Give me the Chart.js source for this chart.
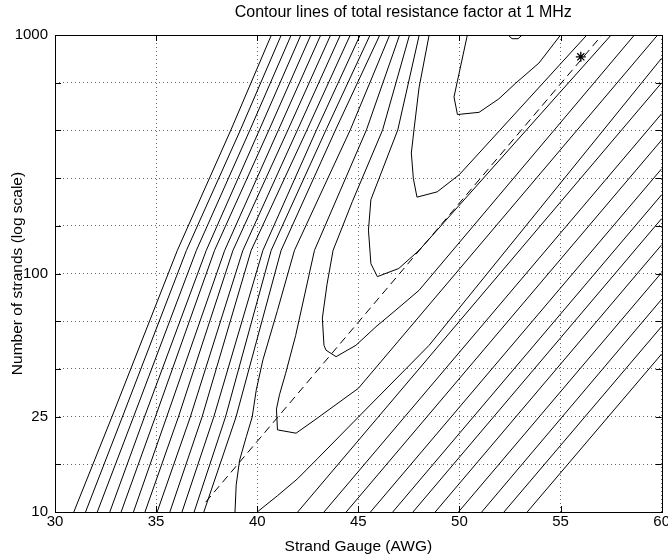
<!DOCTYPE html>
<html><head><meta charset="utf-8">
<script src="https://cdn.jsdelivr.net/npm/chart.js@4.4.1/dist/chart.umd.min.js"></script>
<style>html,body{margin:0;padding:0;background:#fff;}#wrap{width:668px;height:557px;}</style>
</head><body><div id="wrap"><canvas id="c" width="668" height="557"></canvas></div>
<script>
const chartTitle = 'Contour lines of total resistance factor at 1 MHz';
const xAxisTitle = 'Strand Gauge (AWG)';
const yAxisTitle = 'Number of strands (log scale)';
const xTicks = [30, 35, 40, 45, 50, 55, 60];
const yGridTicks = [10, 15.85, 25.12, 39.81, 63.1, 100, 158.5, 251.2, 398.1, 631, 1000];
const yLabeledTicks = [10, 25.12, 100, 1000];
const yTickTexts = ['10', '25', '100', '1000'];

// contour lines, points as [AWG, number of strands]
const left01 = [[30.93,10],[32.81,25],[36.05,125],[38.7,400],[40.70,1000]];
const left02 = [[31.51,10],[33.33,25],[36.5,125],[39.17,400],[41.19,1000]];
const left03 = [[32.09,10],[33.88,25],[36.99,125],[39.64,400],[41.68,1000]];
const left04 = [[32.71,10],[34.42,25],[37.48,125],[40.11,400],[42.16,1000]];
const left05 = [[33.27,10],[34.96,25],[37.89,125],[40.58,400],[42.65,1000]];
const left06 = [[33.88,10],[35.52,25],[38.39,125],[41.05,400],[43.14,1000]];
const left07 = [[34.45,10],[36.10,25],[38.8,125],[41.52,400],[43.63,1000]];
const left08 = [[35.05,10],[36.69,25],[39.29,125],[41.99,400],[44.11,1000]];
const left09 = [[35.68,10],[37.27,25],[39.7,125],[42.46,400],[44.60,1000]];
const left10 = [[36.28,10],[37.85,25],[40.28,125],[42.93,400],[45.09,1000]];
const left11 = [[36.88,10],[38.43,25],[40.69,125],[43.4,400],[45.58,1000]];
const left12 = [[37.36,10],[38.95,25],[41.18,125],[43.87,400],[46.06,1000]];

const v1Left  = [[38.9,10],[38.96,13],[39.13,16.5],[39.46,20.7],[39.75,25],[39.95,32.4],[40.28,43.4],[41.0,70],[41.84,125],[44.6,400],[46.55,1000]];
const v1Right = [[40.0,10],[41.0,11.7],[42.0,13.8],[43.0,16.8],[45.0,25],[48.5,50],[60,800]];
const v2 = [[47.04,1000],[45.4,400],[42.83,125],[41.9,55],[41.4,38],[41.1,31],[40.95,27],[41.0,22.1],[41.92,21.4],[42.9,24.5],[45.0,33],[59.8,1000]];
const v3 = [[47.53,1000],[46.2,400],[44.7,200],[43.75,125],[43.45,90],[43.22,65],[43.3,50],[43.4,47.7],[43.9,44.8],[44.88,50],[45.87,59.8],[46.86,70.3],[48.0,85],[58.65,1000]];
const v4 = [[48.01,1000],[46.95,400],[45.62,204],[45.5,152],[45.62,110],[45.94,97],[47.0,105],[48.0,125],[57.5,1000]];
const v5 = [[48.5,1000],[48.0,600],[47.75,400],[47.62,320],[47.72,250],[47.9,209],[48.9,220],[50.0,260],[56.3,1000]];
const v6 = [[50.39,1000],[49.73,550],[49.9,464],[50.97,474],[51.95,540],[52.77,627],[53.93,763],[55.0,1000]];
const v7 = [[52.4,1000],[52.6,965],[52.9,965],[53.1,1000]];

const right01 = [[42.0,10],[60,631]];
const right02 = [[43.3,10],[60,468]];
const right03 = [[44.4,10],[60,363]];
const right04 = [[45.6,10],[60,275]];
const right05 = [[46.7,10],[60,214]];
const right06 = [[47.7,10],[60,170]];
const right07 = [[48.8,10],[60,132]];
const right08 = [[49.95,10],[60,101]];
const right09 = [[51.1,10],[60,78]];
const right10 = [[52.2,10],[60,60]];
const right11 = [[53.35,10],[60,46]];

const constantAreaLine = [[37.45,11],[57.05,1000]];
const markedPoint = [[56.0,810]];

const solidContours = [left01,left02,left03,left04,left05,left06,left07,left08,left09,left10,left11,left12,
  v1Left,v1Right,v2,v3,v4,v5,v6,v7,
  right01,right02,right03,right04,right05,right06,right07,right08,right09,right10,right11];

const toPts = a => a.map(p => ({x: p[0], y: p[1]}));
const FONT = "'Liberation Sans', Arial, Helvetica, sans-serif";
Chart.defaults.font.family = FONT;
Chart.defaults.color = '#000';

const datasets = solidContours.map(c => ({
  data: toPts(c), showLine: true, borderColor: '#000', borderWidth: 1, pointRadius: 0, tension: 0, fill: false
}));
datasets.push({data: toPts(constantAreaLine), showLine: true, borderColor: '#000', borderWidth: 1, borderDash: [8,5], pointRadius: 0, fill: false});
datasets.push({data: toPts(markedPoint), showLine: false, pointStyle: 'star', pointRadius: 5, borderColor: '#000', borderWidth: 1.3, backgroundColor: '#000'});

const frame = {
  id: 'frame',
  afterDraw(chart) {
    const {ctx, chartArea: a, scales: {x, y}} = chart;
    ctx.save();
    ctx.strokeStyle = '#000';
    ctx.lineWidth = 1;
    ctx.beginPath();
    const L = 6;
    xTicks.forEach(v => {
      const px = Math.round(x.getPixelForValue(v)) + 0.5;
      ctx.moveTo(px, a.bottom); ctx.lineTo(px, a.bottom - L);
      ctx.moveTo(px, a.top); ctx.lineTo(px, a.top + L);
    });
    yGridTicks.forEach(v => {
      const py = Math.round(y.getPixelForValue(v)) + 0.5;
      ctx.moveTo(a.left, py); ctx.lineTo(a.left + L, py);
      ctx.moveTo(a.right, py); ctx.lineTo(a.right - L, py);
    });
    ctx.stroke();
    ctx.strokeRect(Math.round(a.left) + 0.5, Math.round(a.top) + 0.5, Math.round(a.right - a.left), Math.round(a.bottom - a.top));
    ctx.fillStyle = '#000';
    ctx.font = "16px " + FONT;
    ctx.textAlign = 'center';
    ctx.textBaseline = 'middle';
    ctx.fillText(chartTitle, a.left + (a.right - a.left) * 0.574, a.top - 22);
    ctx.restore();
  }
};

new Chart(document.getElementById('c'), {
  type: 'scatter',
  data: {datasets},
  options: {
    responsive: false, animation: false, devicePixelRatio: 1,
    layout: {padding: {left: 0, right: 5, top: 35, bottom: 0}},
    plugins: {legend: {display: false}, tooltip: {enabled: false}, title: {display: false}},
    scales: {
      x: {
        type: 'linear', min: 30, max: 60,
        afterBuildTicks: s => { s.ticks = xTicks.map(v => ({value: v})); },
        afterFit: s => { s.height = 45; s.paddingLeft = 0; s.paddingRight = 0; },
        ticks: {font: {size: 15}, color: '#000', padding: 1, maxRotation: 0, autoSkip: false},
        grid: {color: 'rgba(0,0,0,0.6)', lineWidth: 1, drawTicks: false},
        border: {display: false, dash: [1,3]},
        title: {display: true, text: xAxisTitle, font: {size: 15.5}, color: '#000', padding: {top: 0, bottom: 1}}
      },
      y: {
        type: 'logarithmic', min: 10, max: 1000,
        afterBuildTicks: s => { s.ticks = yGridTicks.map(v => ({value: v})); },
        afterFit: s => { s.width = 55; s.paddingTop = 0; s.paddingBottom = 0; },
        ticks: {font: {size: 15}, color: '#000', padding: 7, autoSkip: false,
          callback: v => { const i = yLabeledTicks.findIndex(t => Math.abs(t - v) < 1e-6); return i >= 0 ? yTickTexts[i] : ''; }},
        grid: {color: 'rgba(0,0,0,0.6)', lineWidth: 1, drawTicks: false},
        border: {display: false, dash: [1,3]},
        title: {display: true, text: yAxisTitle, font: {size: 15.5}, color: '#000', padding: {top: 8, bottom: 0}}
      }
    }
  },
  plugins: [frame]
});
</script></body></html>
